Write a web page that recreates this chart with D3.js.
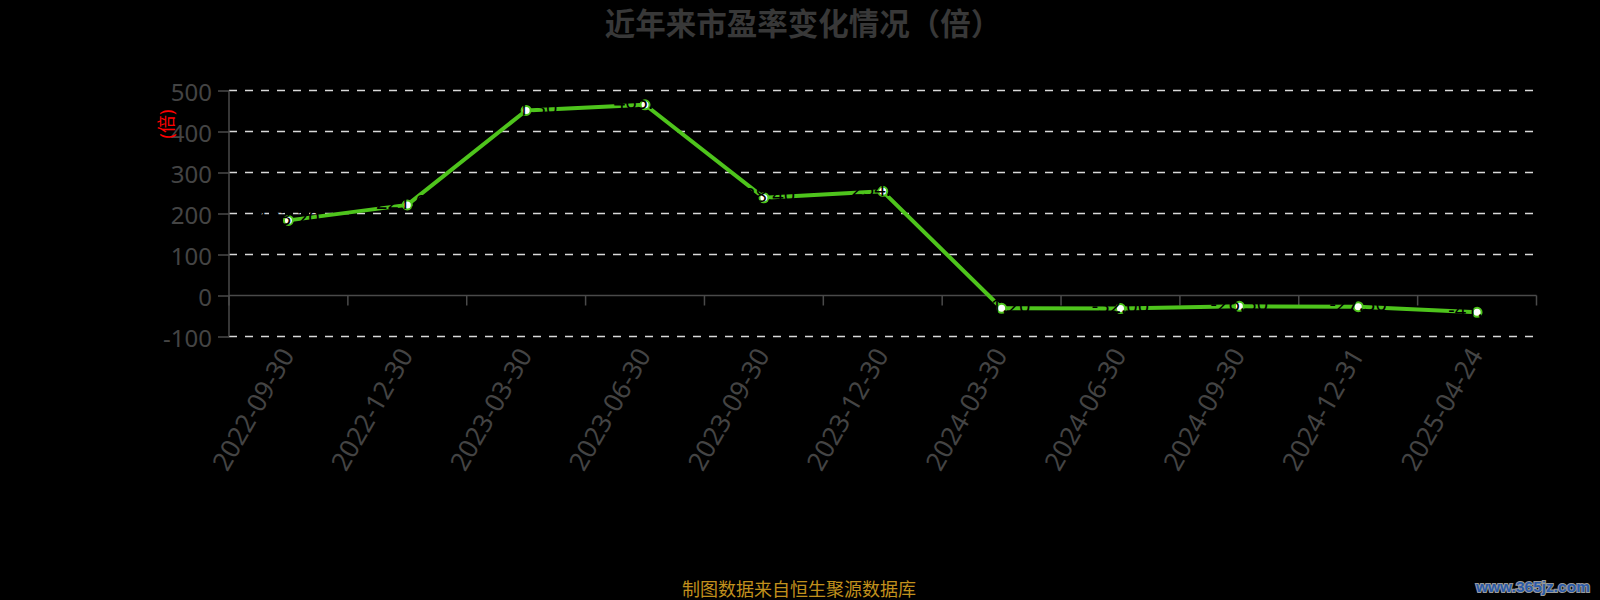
<!DOCTYPE html>
<html><head><meta charset="utf-8">
<script src="https://cdn.jsdelivr.net/npm/d3@7/dist/d3.min.js"></script>
<style>
html,body{margin:0;padding:0;background:#000;}
svg{display:block;}
</style></head>
<body>
<svg id="chart" width="1600" height="600"></svg>
<script>
const categories = ["2022-09-30","2022-12-30","2023-03-30","2023-06-30","2023-09-30","2023-12-30","2024-03-30","2024-06-30","2024-09-30","2024-12-31","2025-04-24"];
const peValues = [183.2, 221.0, 451.3, 465.2, 238.4, 254.1, -31.2, -32.0, -26.5, -27.3, -41.0];
const yTicks = [-100, 0, 100, 200, 300, 400, 500];
const titleText = "近年来市盈率变化情况（倍）";
const yAxisName = "(倍)";
const sourceText = "制图数据来自恒生聚源数据库";
const watermarkText = "www.365jz.com";

const svg = d3.select("#chart");
const font = "'Noto Sans','Noto Sans CJK SC',sans-serif";
const pLeft = 229, pRight = 1536.5, pTop = 90.5, pBottom = 336.5;

const x = d3.scaleBand().domain(categories).range([pLeft, pRight]);
const y = d3.scaleLinear().domain([-100, 500]).range([pBottom, pTop]);

// title
svg.append("text").attr("x", 803).attr("y", 23).attr("text-anchor", "middle")
  .attr("dominant-baseline", "central").attr("font-family", font).attr("font-size", 30.5)
  .attr("font-weight", "bold").attr("fill", "#383838").text(titleText);

// gridlines
svg.append("g").selectAll("line").data(yTicks.filter(d => d !== 0)).join("line")
  .attr("x1", pLeft).attr("x2", 1533).attr("y1", d => y(d)).attr("y2", d => y(d))
  .attr("stroke", "#d9d9d9").attr("stroke-width", 1.5).attr("stroke-dasharray", "8,8");

// y axis
const yAxis = d3.axisLeft(y).tickValues(yTicks).tickFormat(d => String(d)).tickSize(11).tickPadding(6);
const gy = svg.append("g").attr("transform", `translate(${pLeft},0)`).call(yAxis);
gy.select(".domain").attr("stroke", "#4a4a4a").attr("stroke-width", 1.5).attr("d", `M0,${pBottom}V${pTop}`);
gy.selectAll(".tick line").attr("stroke", "#4a4a4a").attr("stroke-width", 1.5);
gy.selectAll(".tick text").attr("font-family", font).attr("font-size", 24).attr("fill", "#444")
  .attr("dominant-baseline", "central").attr("dy", null);

// y axis name
svg.append("text").attr("transform", `translate(166,124) rotate(-90)`).attr("text-anchor", "middle")
  .attr("dominant-baseline", "central").attr("font-family", font).attr("font-size", 18)
  .attr("fill", "#ff0000").text(yAxisName);

// x axis at zero
const gx = svg.append("g").attr("transform", `translate(0,${y(0)})`);
gx.append("line").attr("x1", pLeft).attr("x2", pRight).attr("y1", 0).attr("y2", 0)
  .attr("stroke", "#4a4a4a").attr("stroke-width", 1.5);
const bounds = categories.map(c => x(c) + x.bandwidth()).concat([pLeft]);
gx.selectAll("line.tk").data(bounds).join("line").attr("class", "tk")
  .attr("x1", d => d).attr("x2", d => d).attr("y1", 0).attr("y2", 10)
  .attr("stroke", "#4a4a4a").attr("stroke-width", 1.5);

// x labels
svg.append("g").selectAll("text").data(categories).join("text")
  .attr("transform", d => `translate(${x(d) + x.bandwidth() / 2 - 2},350) rotate(-60)`)
  .attr("text-anchor", "end").attr("dominant-baseline", "central")
  .attr("font-family", font).attr("font-size", 26).attr("fill", "#444").text(d => d);

// line
const pts = categories.map((c, i) => ({c, v: peValues[i]}));
const line = d3.line().x(d => x(d.c) + x.bandwidth() / 2).y(d => y(d.v));
svg.append("path").datum(pts).attr("d", line).attr("fill", "none")
  .attr("stroke", "#4ec41c").attr("stroke-width", 4).attr("stroke-linejoin", "round");

svg.append("g").selectAll("circle").data(pts).join("circle")
  .attr("cx", d => x(d.c) + x.bandwidth() / 2).attr("cy", d => y(d.v)).attr("r", 4.5)
  .attr("fill", "#fff").attr("stroke", "#4ec41c").attr("stroke-width", 2);

// data labels (black)
svg.append("g").selectAll("text").data(pts).join("text")
  .attr("x", d => x(d.c) + x.bandwidth() / 2).attr("y", d => y(d.v) - 3)
  .attr("text-anchor", "middle").attr("dominant-baseline", "central")
  .attr("font-family", font).attr("font-size", 20).attr("fill", "#000")
  .text(d => d.v.toFixed(2));

// source
svg.append("text").attr("x", 799).attr("y", 589).attr("text-anchor", "middle")
  .attr("dominant-baseline", "central").attr("font-family", font).attr("font-size", 18)
  .attr("fill", "#c1901c").text(sourceText);

// watermark
svg.append("text").attr("x", 1476).attr("y", 586)
  .attr("dominant-baseline", "central").attr("font-family", "'Liberation Sans',sans-serif").attr("font-size", 15.5)
  .attr("font-weight", "bold").attr("fill", "#2b5ba8").attr("stroke", "#9a9a9a").attr("stroke-width", 2)
  .attr("paint-order", "stroke").text(watermarkText);
</script>
</body></html>
